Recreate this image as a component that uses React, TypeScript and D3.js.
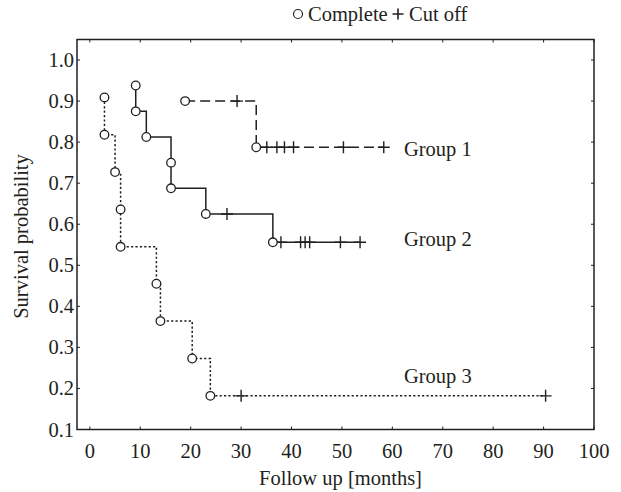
import React from 'react';
import * as d3 from 'd3';

// Kaplan-Meier steps: [months, survival]
const group1Events: [number, number][] = [[18.9, 0.9], [33.0, 0.7875]];
const group1Censored: [number, number][] = [
  [29.2, 0.9], [35.1, 0.7875], [37.1, 0.7875], [38.6, 0.7875], [40.4, 0.7875], [50.3, 0.7875], [58.3, 0.7875],
];
const group2Events: [number, number][] = [
  [9.1, 0.938], [9.1, 0.875], [11.2, 0.8125], [16.1, 0.75], [16.1, 0.6875], [23.0, 0.625], [36.3, 0.556],
];
const group2Censored: [number, number][] = [
  [27.2, 0.625], [37.9, 0.556], [41.8, 0.556], [42.7, 0.556], [43.6, 0.556], [49.7, 0.556], [53.6, 0.556],
];
const group3Events: [number, number][] = [
  [2.9, 0.909], [2.9, 0.818], [5.0, 0.727], [6.1, 0.636], [6.1, 0.545], [13.2, 0.455], [14.0, 0.364], [20.3, 0.273], [23.9, 0.182],
];
const group3Censored: [number, number][] = [[30.0, 0.182], [90.4, 0.182]];

const groupNames = ['Group 1', 'Group 2', 'Group 3'];
const groupLabelAt: [number, number][] = [[62.3, 0.784], [62.3, 0.563], [62.3, 0.23]];

const xTicks = [0, 10, 20, 30, 40, 50, 60, 70, 80, 90, 100];
const yTicks = [0.1, 0.2, 0.3, 0.4, 0.5, 0.6, 0.7, 0.8, 0.9, 1.0];

const W = 621;
const H = 492;
const frame = { left: 77, right: 594, top: 39.5, bottom: 429.5 };
const font = '"Liberation Serif", "DejaVu Serif", serif';
const fs = 20.5;
const ink = '#231f20';

const x = d3.scaleLinear().domain([-2.55, 100]).range([frame.left, frame.right]);
const y = d3.scaleLinear().domain([0.1, 1.05]).range([frame.bottom, frame.top]);

const stepLine = d3.line<[number, number]>()
  .x(d => x(d[0]))
  .y(d => y(d[1]))
  .curve(d3.curveStepAfter);

function plusPath(cx: number, cy: number, r = 6) {
  return `M${cx - r},${cy}H${cx + r}M${cx},${cy - r}V${cy + r}`;
}

const groups = [
  { events: group1Events, censored: group1Censored, dash: '10,5' },
  { events: group2Events, censored: group2Censored, dash: undefined },
  { events: group3Events, censored: group3Censored, dash: '2.2,2.2' },
];

export default function App() {
  return (
    <svg width={W} height={H} style={{ display: 'block', position: 'absolute', left: 0, top: 0 }}>
      <rect width={W} height={H} fill="#fff" />

      {/* legend */}
      <circle cx={298} cy={14} r={4.5} fill="#fff" stroke={ink} strokeWidth={1.2} />
      <text x={308} y={20.5} fontFamily={font} fontSize={fs} fill={ink}>Complete</text>
      <path d={plusPath(398, 14, 5.5)} stroke={ink} strokeWidth={1.6} />
      <text x={409} y={20.5} fontFamily={font} fontSize={fs} fill={ink}>Cut off</text>

      {/* frame */}
      <rect x={frame.left} y={frame.top} width={frame.right - frame.left} height={frame.bottom - frame.top}
        fill="none" stroke={ink} strokeWidth={1.5} />

      {xTicks.map(t => (
        <g key={'x' + t}>
          <line x1={x(t)} x2={x(t)} y1={frame.bottom} y2={frame.bottom - 3} stroke={ink} strokeWidth={1} />
          <line x1={x(t)} x2={x(t)} y1={frame.top} y2={frame.top + 3} stroke={ink} strokeWidth={1} />
          <text x={x(t)} y={457.5} textAnchor="middle" fontFamily={font} fontSize={fs} fill={ink}>{t}</text>
        </g>
      ))}
      {yTicks.map(t => (
        <g key={'y' + t}>
          <line x1={frame.left} x2={frame.left + 3} y1={y(t)} y2={y(t)} stroke={ink} strokeWidth={1} />
          <line x1={frame.right} x2={frame.right - 3} y1={y(t)} y2={y(t)} stroke={ink} strokeWidth={1} />
          <text x={74} y={y(t) + 7} textAnchor="end" fontFamily={font} fontSize={fs} fill={ink}>{t.toFixed(1)}</text>
        </g>
      ))}

      <text x={(frame.left + frame.right) / 2 + 5} y={485} textAnchor="middle" fontFamily={font} fontSize={fs} fill={ink}>
        Follow up [months]
      </text>
      <text transform={`translate(28,${(frame.top + frame.bottom) / 2 + 2}) rotate(-90)`} textAnchor="middle"
        fontFamily={font} fontSize={fs} fill={ink}>Survival probability</text>

      {groups.map((g, i) => {
        const lastS = g.events[g.events.length - 1][1];
        const lastT = Math.max(...g.censored.map(c => c[0]), g.events[g.events.length - 1][0]);
        const pts: [number, number][] = [...g.events, [lastT, lastS]];
        return (
          <g key={i}>
            <path d={stepLine(pts) || ''} fill="none" stroke={ink} strokeWidth={1.5} strokeDasharray={g.dash} />
            {g.censored.map((c, j) => (
              <path key={j} d={plusPath(x(c[0]), y(c[1]))} stroke={ink} strokeWidth={1.4} />
            ))}
            {g.events.map((e, j) => (
              <circle key={j} cx={x(e[0])} cy={y(e[1])} r={4.3} fill="#fff" stroke={ink} strokeWidth={1.3} />
            ))}
            <text x={x(groupLabelAt[i][0])} y={y(groupLabelAt[i][1]) + 7} fontFamily={font} fontSize={fs} fill={ink}>
              {groupNames[i]}
            </text>
          </g>
        );
      })}
    </svg>
  );
}
